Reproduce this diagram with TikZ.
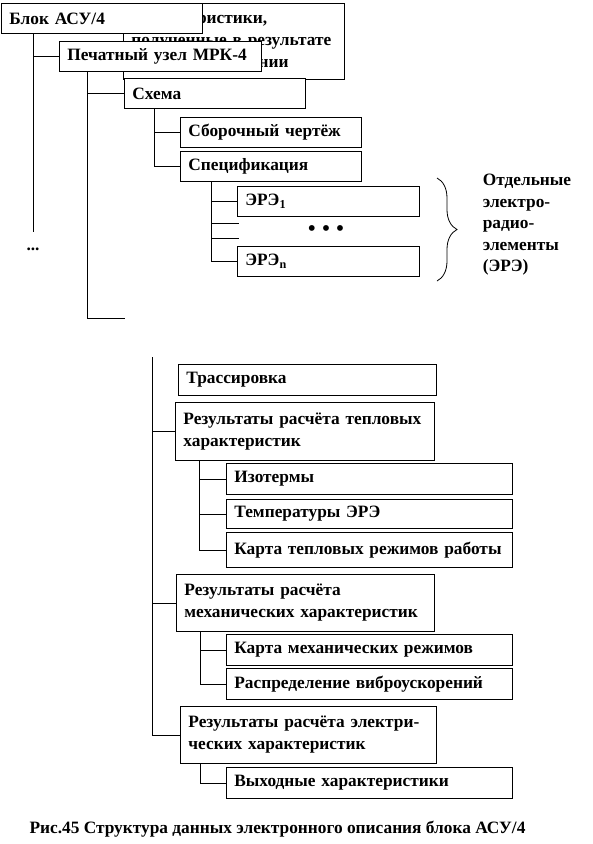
\documentclass[tikz,border=0pt]{standalone}
\usepackage{fontspec}
\setmainfont{Liberation Serif}
\usetikzlibrary{positioning,calc,decorations.pathreplacing}

\begin{document}
\begin{tikzpicture}[
        x=0.75pt, y=-0.75pt,
        line width=0.6pt,
        every node/.style={font=\fontsize{13}{16.5}\selectfont\bfseries},
        box/.style={draw, fill=white, anchor=north west, inner xsep=6pt, inner ysep=0pt,
                    align=left, minimum height=22.5pt},
        wd/.code={\pgfmathsetlengthmacro\boxtw{#1*0.75pt-12pt}\tikzset{text width=\boxtw}},
        ht/.style={minimum height=#1*0.75pt},
    ]
        \useasboundingbox (0,0) rectangle (593,844);

        % --- upper part: block, board, schematic ---
        \node[box, wd=221, ht=76] (harakt) at (123,3)
             {Характеристики,\\полученные в результате\\при моделировании};
        \node[box, wd=201] (blok)  at (1,3)    {Блок АСУ/4};
        \node[box, wd=202] (pech)  at (59,41)  {Печатный узел МРК-4};
        \node[box, wd=181] (shema) at (124,78) {Схема};
        \node[box, wd=181] (sbor)  at (180,117) {Сборочный чертёж};
        \node[box, wd=181] (spec)  at (180,151) {Спецификация};
        \node[box, wd=182] (ere1)  at (237,186) {ЭРЭ\textsubscript{1}};
        \node[box, wd=182] (eren)  at (237,246) {ЭРЭ\textsubscript{n}};
        \node (dots) at (326,231) {\fontsize{16}{16}\selectfont•\hspace{5pt}•\hspace{5pt}•};
        \node (more) at (33,249) {...};

        % --- brace and its note ---
        \coordinate (brtop) at (437,178);
        \coordinate (brbot) at (437,281);
        \draw[decorate, decoration={brace, amplitude=15pt}] (brtop) -- (brbot);
        \node[anchor=west, align=left, font=\fontsize{13}{16.1}\selectfont\bfseries] (ereinfo)
             at (478,225) {Отдельные\\электро-\\радио-\\элементы\\(ЭРЭ)};

        % --- tree lines, upper part ---
        \coordinate (tA) at ([xshift=24pt]blok.south west);
        \draw (tA) -- ++(0,198);
        \draw (tA |- pech.west) -- (pech.west);

        \coordinate (tB) at ([xshift=21pt]pech.south west);
        \coordinate (endB) at (125,318);
        \draw (tB) |- (endB);
        \draw (tB |- shema.west) -- (shema.west);

        \coordinate (tC) at ([xshift=22.5pt]shema.south west);
        \draw (tC) |- (spec.west);
        \draw (tC |- sbor.west) -- (sbor.west);

        \coordinate (tD) at ([xshift=23.25pt]spec.south west);
        \coordinate (stub1) at (239,223);
        \coordinate (stub2) at (239,238);
        \draw (tD) |- (eren.west);
        \draw (tD |- ere1.west) -- (ere1.west);
        \draw (tD |- stub1) -- (stub1);
        \draw (tD |- stub2) -- (stub2);

        % --- lower part: results ---
        \node[box, wd=258, ht=31] (tras)  at (178,364) {Трассировка};
        \node[box, wd=259, ht=58] (tepl)  at (175,402) {Результаты расчёта тепловых\\характеристик};
        \node[box, wd=286, ht=31] (izot)  at (226,463) {Изотермы};
        \node[box, wd=286, ht=29] (temp)  at (226,499) {Температуры ЭРЭ};
        \node[box, wd=286, ht=35] (kartt) at (226,532) {Карта тепловых режимов работы};
        \node[box, wd=258, ht=57] (meh)   at (176,574) {Результаты расчёта\\механических характеристик};
        \node[box, wd=286, ht=31] (kartm) at (226,634) {Карта механических режимов};
        \node[box, wd=286, ht=31] (vibr)  at (226,668) {Распределение виброускорений};
        \node[box, wd=256, ht=57] (elek)  at (180,706) {Результаты расчёта электри-\\ческих характеристик};
        \node[box, wd=286, ht=31] (vyh)   at (226,767) {Выходные характеристики};

        % --- tree lines, lower part ---
        \coordinate (tE) at (152,357);
        \draw (tE) |- (elek.west);
        \draw (tE |- tepl.west) -- (tepl.west);
        \draw (tE |- meh.west) -- (meh.west);

        \coordinate (tF) at ([xshift=18pt]tepl.south west);
        \draw (tF) |- (kartt.west);
        \draw (tF |- izot.west) -- (izot.west);
        \draw (tF |- temp.west) -- (temp.west);

        \coordinate (tG) at ([xshift=18pt]meh.south west);
        \draw (tG) |- (vibr.west);
        \draw (tG |- kartm.west) -- (kartm.west);

        \coordinate (tH) at ([xshift=15pt]elek.south west);
        \draw (tH) |- (vyh.west);

        % --- caption ---
        \node (caption) at (277.5,829) {Рис.45 Структура данных электронного описания блока АСУ/4};
    \end{tikzpicture}
\end{document}
